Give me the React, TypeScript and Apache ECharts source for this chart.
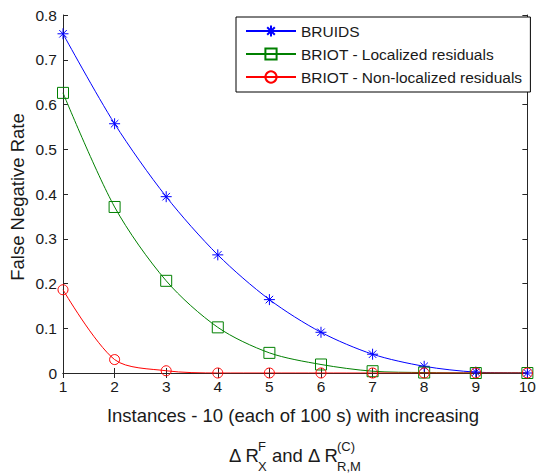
import React, { useEffect, useRef } from "react";
import * as echarts from "echarts";

const instances = [1, 2, 3, 4, 5, 6, 7, 8, 9, 10];
const bruids = [0.758, 0.557, 0.394, 0.264, 0.164, 0.091, 0.042, 0.015, 0.002, 0.0];
const briotLocalized = [0.626, 0.371, 0.206, 0.102, 0.045, 0.019, 0.004, 0.001, 0.0, 0.0];
const briotNonLocalized = [0.186, 0.03, 0.005, 0.0, 0.0, 0.0, 0.0, 0.0, 0.0, 0.0];
const seriesNames = [
  "BRUIDS",
  "BRIOT - Localized residuals",
  "BRIOT - Non-localized residuals",
];
const yLabel = "False Negative Rate";
const xLabel = "Instances - 10 (each of 100 s) with increasing";

const FONT = "Liberation Sans, Arial, Helvetica, sans-serif";
const TXT = "#1a1a1a";
const AX = "#262626";
const STAR = "path://M0,5L10,5M5,0L5,10M1.6,1.6L8.4,8.4M1.6,8.4L8.4,1.6";

export default function App() {
  const ref = useRef<HTMLDivElement>(null);
  useEffect(() => {
    if (!ref.current) return;
    const chart = echarts.init(ref.current, null, { renderer: "svg" });
    const zip = (ys: number[]) => instances.map((x, i) => [x, ys[i]]);
    const axisCommon = {
      type: "value" as const,
      axisLine: { show: true, lineStyle: { color: AX, width: 1 } },
      axisTick: { show: true, inside: true, length: 5, lineStyle: { color: AX } },
      splitLine: { show: false },
    };
    const mk = (name: string, data: number[], color: string, symbol: string, size: number) => ({
      type: "line",
      name,
      data: zip(data),
      smooth: 0.3,
      symbol,
      symbolSize: size,
      showSymbol: true,
      lineStyle: { color, width: 1 },
      itemStyle: { color: "rgba(0,0,0,0)", borderColor: color, borderWidth: 1 },
      emphasis: { disabled: true },
      z: 3,
    });
    const small = 13;
    const big = 18.5;
    chart.setOption({
      animation: false,
      textStyle: { fontFamily: FONT },
      grid: { left: 63, right: 5, top: 15, bottom: 101, containLabel: false },
      xAxis: [
        {
          ...axisCommon,
          min: 1,
          max: 10,
          interval: 1,
          position: "bottom",
          axisLabel: { color: TXT, fontSize: 15.5, fontFamily: FONT, margin: 5 },
        },
        {
          ...axisCommon,
          min: 1,
          max: 10,
          interval: 1,
          position: "top",
          axisLabel: { show: false },
        },
      ],
      yAxis: [
        {
          ...axisCommon,
          min: 0,
          max: 0.8,
          interval: 0.1,
          position: "left",
          axisLabel: { color: TXT, fontSize: 15.5, fontFamily: FONT, margin: 6 },
        },
        {
          ...axisCommon,
          min: 0,
          max: 0.8,
          interval: 0.1,
          position: "right",
          axisLabel: { show: false },
        },
      ],
      legend: {
        orient: "vertical",
        left: 236,
        top: 17,
        padding: [6, 8, 7, 9],
        itemWidth: 50,
        itemHeight: 14,
        itemGap: 7,
        backgroundColor: "#fff",
        borderColor: "#000",
        borderWidth: 1,
        borderRadius: 0,
        selectedMode: false,
        textStyle: { color: TXT, fontSize: 15.5, fontFamily: FONT, lineHeight: 16 },
        data: seriesNames,
      },
      series: [
        mk(seriesNames[0], bruids, "#0000ff", STAR, 11),
        mk(seriesNames[1], briotLocalized, "#008000", "rect", 11),
        mk(seriesNames[2], briotNonLocalized, "#ff0000", "circle", 10),
      ],
      graphic: [
        {
          type: "text",
          x: 17.5,
          y: 197,
          rotation: Math.PI / 2,
          style: { text: yLabel, fill: TXT, fontSize: big, fontFamily: FONT, align: "center", verticalAlign: "middle" },
        },
        {
          type: "text",
          x: 293,
          y: 415.5,
          style: { text: xLabel, fill: TXT, fontSize: big, fontFamily: FONT, align: "center", verticalAlign: "middle" },
        },
        {
          type: "text",
          x: 229,
          y: 455,
          style: { text: "Δ R", fill: TXT, fontSize: big, fontFamily: FONT, align: "left", verticalAlign: "middle" },
        },
        {
          type: "text",
          x: 258,
          y: 446,
          style: { text: "F", fill: TXT, fontSize: small, fontFamily: FONT, align: "left", verticalAlign: "middle" },
        },
        {
          type: "text",
          x: 258,
          y: 466,
          style: { text: "X", fill: TXT, fontSize: small, fontFamily: FONT, align: "left", verticalAlign: "middle" },
        },
        {
          type: "text",
          x: 272,
          y: 455,
          style: { text: "and Δ R", fill: TXT, fontSize: big, fontFamily: FONT, align: "left", verticalAlign: "middle" },
        },
        {
          type: "text",
          x: 337,
          y: 446,
          style: { text: "(C)", fill: TXT, fontSize: small, fontFamily: FONT, align: "left", verticalAlign: "middle" },
        },
        {
          type: "text",
          x: 337,
          y: 466,
          style: { text: "R,M", fill: TXT, fontSize: small, fontFamily: FONT, align: "left", verticalAlign: "middle" },
        },
      ],
    });
    return () => chart.dispose();
  }, []);
  return (
    <div
      ref={ref}
      style={{ position: "absolute", left: 0, top: 0, width: 539, height: 474 }}
    />
  );
}
